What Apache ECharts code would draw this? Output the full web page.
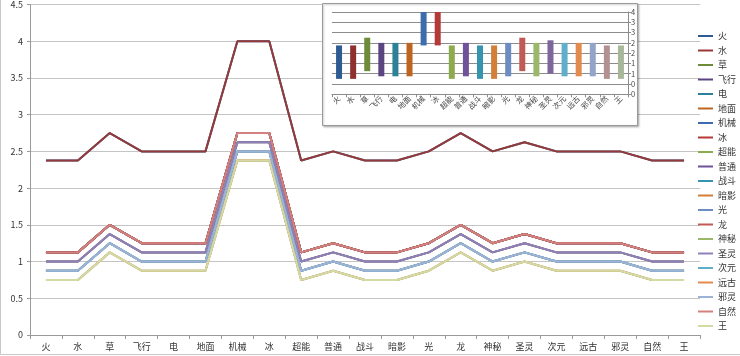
<!DOCTYPE html>
<html><head><meta charset="utf-8">
<script src="https://cdn.jsdelivr.net/npm/echarts@6/dist/echarts.min.js"></script>
<style>html,body{margin:0;padding:0;background:#fff}#c{width:740px;height:356px}</style>
</head><body><div id="c"></div>
<script>
// ---- data ----
const categories = ['火','水','草','飞行','电','地面','机械','冰','超能','普通','战斗','暗影','光','龙','神秘','圣灵','次元','远古','邪灵','自然','王'];
const yTickValues = [0,0.5,1,1.5,2,2.5,3,3.5,4,4.5];
// the five distinct curves (many series overlap on them)
const curveTop    = [2.375,2.375,2.75,2.5,2.5,2.5,4,4,2.375,2.5,2.375,2.375,2.5,2.75,2.5,2.625,2.5,2.5,2.5,2.375,2.375];
const curveSecond = [1.125,1.125,1.5,1.25,1.25,1.25,2.75,2.75,1.125,1.25,1.125,1.125,1.25,1.5,1.25,1.375,1.25,1.25,1.25,1.125,1.125];
const curveThird  = [1,1,1.375,1.125,1.125,1.125,2.625,2.625,1,1.125,1,1,1.125,1.375,1.125,1.25,1.125,1.125,1.125,1,1];
const curveFourth = [0.875,0.875,1.25,1,1,1,2.5,2.5,0.875,1,0.875,0.875,1,1.25,1,1.125,1,1,1,0.875,0.875];
const curveBottom = [0.75,0.75,1.125,0.875,0.875,0.875,2.375,2.375,0.75,0.875,0.75,0.75,0.875,1.125,0.875,1,0.875,0.875,0.875,0.75,0.75];
// which curve each legend series follows
const seriesCurve = ['top','top','second','second','second','second','second','second','third','third','fourth','fourth','fourth','second','bottom','third','fourth','bottom','fourth','second','bottom'];
const curves = {top:curveTop, second:curveSecond, third:curveThird, fourth:curveFourth, bottom:curveBottom};

// ---- styles ----
const lineColors = ['#2E5B92','#953A38','#6E8B3A','#5A4580','#2C8199','#BE6420','#3E6DAE','#B43A38','#8DAA4F','#70519A','#3595B0','#D37F37','#6D8CC1','#C15A57','#9BB86A','#9080B8','#5FAFCB','#E38A4F','#9DB3D6','#D3817F','#D2DBA6'];
const barColors  = ['#2E5B92','#8E302E','#6E8B3A','#5A4580','#2C8199','#BE6420','#3E6DAE','#B43A38','#8DAA4F','#70519A','#3595B0','#D37F37','#6D8CC1','#C15A57','#9BB86A','#7D669C','#5FAFCB','#E38A4F','#93A4C9','#B49191','#A8B799'];
const FONT = '"Noto Sans CJK SC", "Noto Sans", sans-serif';

const seriesData = categories.map((name, i) => curves[seriesCurve[i]]);
const lows  = categories.map((c, j) => Math.min(...seriesData.map(s => s[j])));
const highs = categories.map((c, j) => Math.max(...seriesData.map(s => s[j])));

const chart = echarts.init(document.getElementById('c'), null, {renderer:'canvas'});
const lineSeries = categories.map((name, i) => ({
  name, type:'line', xAxisIndex:0, yAxisIndex:0, data: seriesData[i],
  symbol:'none', color: lineColors[i], lineStyle:{width:2, color: lineColors[i]}, z:2
}));
const option = {
  animation:false,
  backgroundColor:'#fff',
  textStyle:{fontFamily:FONT},
  legend:{
    data: categories, orient:'vertical', left:698, top:30, padding:0,
    icon:'rect', itemWidth:15, itemHeight:2, itemGap:2.5,
    textStyle:{fontSize:9, lineHeight:12, color:'#333', fontFamily:FONT}
  },
  grid:[
    {left:30, top:4, width:670, height:331},
    {left:332, top:12, width:296, height:82.3, z:11}
  ],
  graphic:[
    {type:'polyline', shape:{points:[[0.5,0],[0.5,354.5],[740,354.5]]}, style:{stroke:'#C8C8C8', fill:null, lineWidth:1}, z:0},
    {type:'rect', shape:{x:322.5, y:3.5, width:315, height:122}, style:{fill:'#fff', stroke:'#9A9A9A', lineWidth:1, shadowBlur:2, shadowColor:'rgba(0,0,0,0.25)', shadowOffsetX:1, shadowOffsetY:1}, z:5}
  ],
  xAxis:[
    {type:'category', gridIndex:0, data:categories, boundaryGap:true,
     axisLine:{lineStyle:{color:'#9A9A9A'}}, axisTick:{show:true, length:4, lineStyle:{color:'#9A9A9A'}},
     axisLabel:{interval:0, fontSize:9, color:'#333', margin:7, fontFamily:FONT}, z:0},
    {type:'category', gridIndex:1, data:categories, boundaryGap:true,
     axisLine:{lineStyle:{color:'#8C8C8C'}}, axisTick:{show:true, length:3, lineStyle:{color:'#8C8C8C'}},
     axisLabel:{interval:0, fontSize:7.5, rotate:45, color:'#444', margin:3, fontFamily:FONT}, z:11}
  ],
  yAxis:[
    {type:'value', gridIndex:0, min:yTickValues[0], max:yTickValues[yTickValues.length-1], interval:0.5,
     axisLine:{show:true, lineStyle:{color:'#9A9A9A'}}, axisTick:{show:true, length:3, lineStyle:{color:'#9A9A9A'}},
     splitLine:{lineStyle:{color:'#C4C4C4'}},
     axisLabel:{fontSize:9, color:'#333', margin:7, fontFamily:FONT}, z:0},
    {type:'value', gridIndex:1, position:'right', min:0, max:4, interval:0.5,
     axisLine:{show:true, lineStyle:{color:'#8C8C8C'}}, axisTick:{show:true, length:3, lineStyle:{color:'#8C8C8C'}},
     splitLine:{lineStyle:{color:'#8C8C8C'}},
     axisLabel:{fontSize:7.5, color:'#444', margin:3, width:6, overflow:'truncate', ellipsis:'', fontFamily:FONT}, z:11}
  ],
  series: lineSeries.concat([
    {name:'_low', type:'bar', xAxisIndex:1, yAxisIndex:1, stack:'hl', data:lows, barWidth:6,
     itemStyle:{color:'rgba(0,0,0,0)'}, silent:true, z:12},
    {name:'_range', type:'bar', xAxisIndex:1, yAxisIndex:1, stack:'hl', barWidth:6,
     data: highs.map((h, i) => ({value: h - lows[i], itemStyle:{color: barColors[i]}})), silent:true, z:12}
  ])
};
chart.setOption(option);
</script></body></html>
